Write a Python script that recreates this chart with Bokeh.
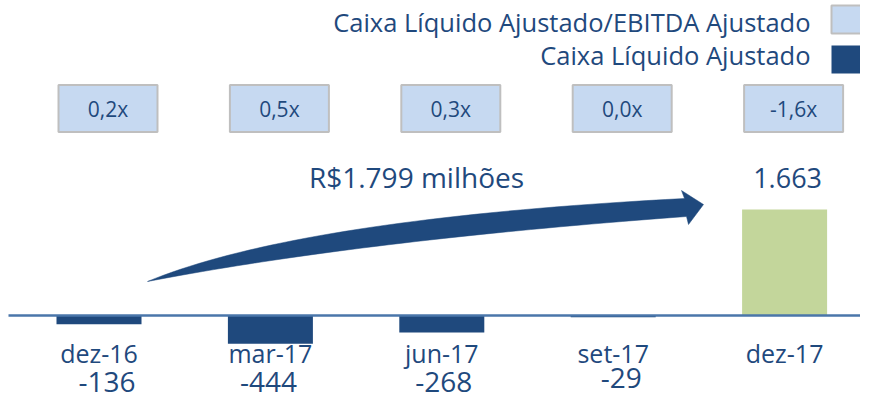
from bokeh.plotting import figure
from bokeh.models import Range1d, ColumnDataSource
from bokeh.core.properties import value
from bokeh.embed import file_html
from bokeh.resources import INLINE

# ---------------- data ----------------
categories = ["dez-16", "mar-17", "jun-17", "set-17", "dez-17"]
caixa_liquido = [-136, -444, -268, -29, 1663]
caixa_ebitda = [0.2, 0.5, 0.3, 0.0, -1.6]
legend_labels = ["Caixa Líquido Ajustado/EBITDA Ajustado", "Caixa Líquido Ajustado"]

# ---------------- styles ----------------
NAVY = "#1F497D"
GREEN = "#C3D69B"
LIGHT = "#C6D9F1"
GREY = "#BFBFBF"
AXIS = "#4A76AA"
FONT = value("Open Sans")

# ---------------- layout (screen px) ----------------
W, H = 860, 403
SLOT = 171.4            # px between category centres
FIRST = 98.5            # x of first category centre
ZERO = 315              # y of zero line
PXU = 106.0 / 1663.0    # px per unit

XMIN = -FIRST / SLOT
XMAX = XMIN + W / SLOT
YMAX = ZERO / PXU
YMIN = YMAX - H / PXU


def X(sx):
    return XMIN + sx / SLOT


def Y(sy):
    return YMAX - sy / PXU


def BL(sy, size):
    # place a text so its visible baseline lands at screen y = sy
    return Y(sy - 0.4 * size)


def fmt_int(v):
    return f"{v:,}".replace(",", ".")


def fmt_ratio(v):
    return f"{v:.1f}".replace(".", ",") + "x"


p = figure(width=W, height=H, x_range=Range1d(XMIN, XMAX), y_range=Range1d(YMIN, YMAX),
           output_backend="svg", toolbar_location=None, min_border=0,
           x_axis_location=None, y_axis_location=None)
p.grid.visible = False
p.outline_line_color = None
p.background_fill_color = "white"
p.border_fill_color = "white"

xs = list(range(len(categories)))
src = ColumnDataSource(dict(
    x=xs,
    v=caixa_liquido,
    color=[GREEN if v > 0 else NAVY for v in caixa_liquido],
))

# bars
p.vbar(x="x", top="v", bottom=0, width=85 / SLOT, fill_color="color", line_color=None, source=src)

# zero line
p.segment(x0=X(8), y0=0, x1=X(870), y1=0, line_color=AXIS, line_width=2.5)

# category labels
p.text(x=xs, y=[BL(362, 25)] * len(xs), text=categories, text_align="center",
       text_baseline="alphabetic", text_font=FONT, text_font_size="25px", text_color=NAVY)

# value labels (negative, below axis labels)
neg = [i for i, v in enumerate(caixa_liquido) if v < 0]
neg_dx = [8, -2, 2, 8]
neg_base = [393, 393, 393, 389]
p.text(x=[xs[i] + neg_dx[k] / SLOT for k, i in enumerate(neg)],
       y=[BL(neg_base[k], 28) for k in range(len(neg))],
       text=[fmt_int(caixa_liquido[i]) for i in neg], text_align="center",
       text_baseline="alphabetic", text_font=FONT, text_font_size="28px", text_color=NAVY)
pos = [i for i, v in enumerate(caixa_liquido) if v > 0]
p.text(x=[xs[i] + 3 / SLOT for i in pos], y=[BL(188, 27)] * len(pos),
       text=[fmt_int(caixa_liquido[i]) for i in pos], text_align="center",
       text_baseline="alphabetic", text_font=FONT, text_font_size="27px", text_color=NAVY)

# ratio boxes
p.rect(x=[x + 9 / SLOT for x in xs], y=[Y(108)] * len(xs), width=99, height=47,
       width_units="screen", height_units="screen",
       fill_color=LIGHT, line_color=GREY, line_width=2)
p.text(x=[x + 9 / SLOT for x in xs], y=[BL(117, 21)] * len(xs),
       text=[fmt_ratio(r) for r in caixa_ebitda], text_align="center",
       text_baseline="alphabetic", text_font=FONT, text_font_size="21px", text_color=NAVY)

# legend
p.text(x=[X(810)] * 2, y=[BL(32, 25.5), BL(65, 25.5)], text=legend_labels, text_align="right",
       text_baseline="alphabetic", text_font=FONT, text_font_size="25.5px", text_color=NAVY)
p.quad(left=[X(831)], right=[X(880)], top=[Y(5)], bottom=[Y(33)],
       fill_color=LIGHT, line_color=GREY, line_width=2)
p.quad(left=[X(831)], right=[X(880)], top=[Y(45)], bottom=[Y(73)],
       fill_color=NAVY, line_color=None)


# growth arrow
def qbez(a, c, b, n=40):
    pts = []
    for k in range(n + 1):
        t = k / n
        pts.append(((1 - t) ** 2 * a[0] + 2 * t * (1 - t) * c[0] + t * t * b[0],
                    (1 - t) ** 2 * a[1] + 2 * t * (1 - t) * c[1] + t * t * b[1]))
    return pts


tail = (147, 281)
top_edge = qbez(tail, (300, 218), (684, 198))
bot_edge = qbez(tail, (360, 240), (686, 216))
head = [(681, 190), (703, 204), (688, 224)]
poly = top_edge + head + bot_edge[::-1]
p.patch(x=[X(a) for a, b in poly], y=[Y(b) for a, b in poly], fill_color=NAVY, line_color=NAVY,
        line_width=0.5)

growth = caixa_liquido[-1] - caixa_liquido[0]
p.text(x=[X(416)], y=[BL(188, 28)], text=[f"R${fmt_int(growth)} milhões"], text_align="center",
       text_baseline="alphabetic", text_font=FONT, text_font_size="28px", text_color=NAVY)

open("out.html", "w").write(file_html(p, INLINE))
